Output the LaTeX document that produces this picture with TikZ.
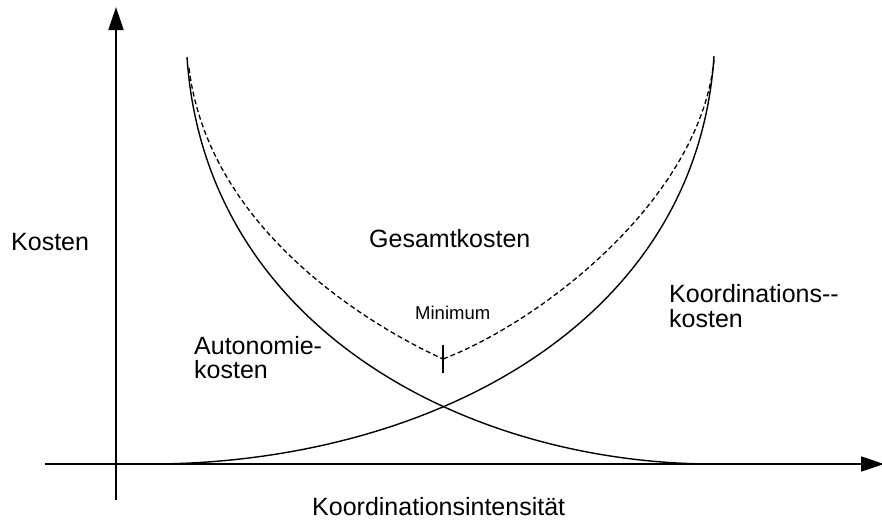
\documentclass[tikz,border=0pt]{standalone}
\usepackage{fontspec}
\setmainfont{Liberation Sans}
\usetikzlibrary{arrows.meta}
\begin{document}
\begin{tikzpicture}[x=1pt,y=-1pt,
  axis/.style={line width=1.6pt,-{Triangle[length=23pt,width=15pt]}},
  curve/.style={line width=1.4pt},
  total/.style={line width=1.3pt,dash pattern=on 5pt off 3pt},
  lbl/.style={anchor=base west,inner sep=0pt,font=\fontsize{25}{25}\selectfont},
  small/.style={anchor=base west,inner sep=0pt,font=\fontsize{18.5}{18.5}\selectfont}]
\useasboundingbox (0,0) rectangle (882,525);

% axes
\coordinate (yfoot) at (116,500);
\coordinate (ytip) at (116,7);
\coordinate (xfoot) at (45,464);
\coordinate (xtip) at (884,464);
\draw[axis] (yfoot) -- (ytip);
\draw[axis] (xfoot) -- (xtip);

% cost curves
\coordinate (aStart) at (187,57);
\coordinate (aEnd) at (714,464);
\coordinate (kStart) at (150,464);
\coordinate (kEnd) at (714,56);
\draw[curve] (aStart) .. controls (205,330) and (470,464) .. (aEnd);
\draw[curve] (kStart) .. controls (420,464) and (696,330) .. (kEnd);

% total cost (dashed) with its minimum
\coordinate (gStart) at (189,68);
\coordinate (gMin) at (443,359);
\coordinate (gEnd) at (714,60);
\draw[total] (gStart) .. controls (208,225) and (362,322) .. (gMin);
\draw[total] (gMin) .. controls (540,322) and (700,200) .. (gEnd);
\coordinate (tickTop) at (443,345);
\coordinate (tickBot) at (443,373);
\draw[line width=1.3pt] (tickTop) -- (tickBot);

% labels
\node[lbl] (kosten) at (11,250) {Kosten};
\node[lbl] (gesamt) at (369,247) {Gesamtkosten};
\node[small] (minimum) at (415,319) {Minimum};
\node[lbl] (auto1) at (194,354) {Autonomie-};
\node[lbl] (auto2) at (194,378) {kosten};
\node[lbl] (koord1) at (669,302) {Koordinations-{}-};
\node[lbl] (koord2) at (669,327) {kosten};
\node[lbl] (intens) at (312,515) {Koordinationsintensität};
\end{tikzpicture}
\end{document}
